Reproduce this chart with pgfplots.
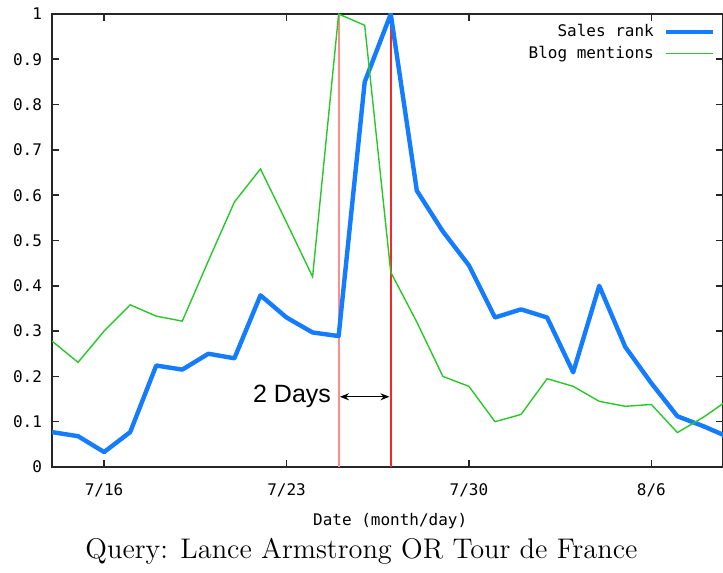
\documentclass[border=0pt]{standalone}
\usepackage{pgfplots}
\pgfplotsset{compat=1.18}
\usepackage{fontspec}
\usetikzlibrary{arrows.meta}
\newfontfamily\gpfont{DejaVu Sans Mono}
\newfontfamily\annfont{Liberation Sans}

\definecolor{salesblue}{RGB}{20,125,255}
\definecolor{bloggreen}{RGB}{40,200,40}
\definecolor{lightred}{RGB}{255,140,140}
\definecolor{darkred}{RGB}{245,40,40}

% day 0 = 7/14
\pgfplotstableread{
day rank
0  0.077
1  0.068
2  0.033
3  0.077
4  0.224
5  0.215
6  0.250
7  0.240
8  0.379
9  0.330
10 0.297
11 0.289
12 0.850
13 1.000
14 0.610
15 0.520
16 0.445
17 0.330
18 0.348
19 0.330
20 0.209
21 0.400
22 0.265
23 0.185
24 0.112
25 0.090
26 0.065
}\salesdata

\pgfplotstableread{
day blog
0  0.278
1  0.231
2  0.300
3  0.358
4  0.333
5  0.322
6  0.455
7  0.585
8  0.658
9  0.540
10 0.420
11 1.000
12 0.975
13 0.430
14 0.320
15 0.200
16 0.178
17 0.100
18 0.116
19 0.195
20 0.178
21 0.145
22 0.134
23 0.138
24 0.076
25 0.110
26 0.150
}\blogdata

\begin{document}
\begin{tikzpicture}
\useasboundingbox (-26pt,-53pt) rectangle (335.5pt,233.5pt);
\begin{axis}[scale only axis, width=335.5pt, height=226.5pt,
  at={(0,0)}, anchor=south west,
  xmin=0, xmax=25.75, ymin=0, ymax=1,
  xtick={2,9,16,23}, xticklabels={7/16,7/23,7/30,8/6},
  ytick={0,0.1,0.2,0.3,0.4,0.5,0.6,0.7,0.8,0.9,1},
  yticklabels={0,0.1,0.2,0.3,0.4,0.5,0.6,0.7,0.8,0.9,1},
  tick align=inside, major tick length=3.5pt,
  tick style={black!85, line width=0.8pt},
  axis line style={black!85, line width=1pt},
  ticklabel style={font=\gpfont\fontsize{8}{9}\selectfont},
  xticklabel style={yshift=-5pt},
  yticklabel style={xshift=-1.5pt},
  xlabel={Date (month/day)},
  xlabel style={font=\gpfont\fontsize{8}{9}\selectfont,
    at={(rel axis cs:0.504,0)}, anchor=center, yshift=-27pt},
  legend plot pos=right, legend cell align=right,
  legend style={draw=none, fill=none, at={(rel axis cs:0.998,0.995)},
    anchor=north east, font=\gpfont\fontsize{8}{9}\selectfont,
    row sep=-1pt,
    /tikz/every odd column/.append style={column sep=3pt}},
  legend image code/.code={\draw[#1] (0pt,0pt) -- (23.5pt,0pt);},
  clip=true]
\addplot[lightred, line width=1pt, forget plot] coordinates {(11,0) (11,1)};
\addplot[darkred, line width=0.9pt, forget plot] coordinates {(13,0) (13,1)};
\addplot[salesblue, line width=2.2pt, line join=round] table[x=day, y=rank] {\salesdata};
\addplot[bloggreen, line width=0.7pt] table[x=day, y=blog] {\blogdata};
\legend{Sales rank, Blog mentions}
\draw[black, line width=0.6pt, {Stealth[length=4.5pt,width=3.5pt]}-{Stealth[length=4.5pt,width=3.5pt]}]
  (axis cs:11.05,0.155) -- (axis cs:12.95,0.155);
\node[anchor=east, font=\annfont\fontsize{12.5}{14}\selectfont, inner sep=0pt]
  at (axis cs:10.72,0.155) {2 Days};
\end{axis}
\node[font=\fontsize{14.2}{16}\selectfont] at (154.75pt,-42pt)
  {Query: Lance Armstrong OR Tour de France};
\end{tikzpicture}
\end{document}
